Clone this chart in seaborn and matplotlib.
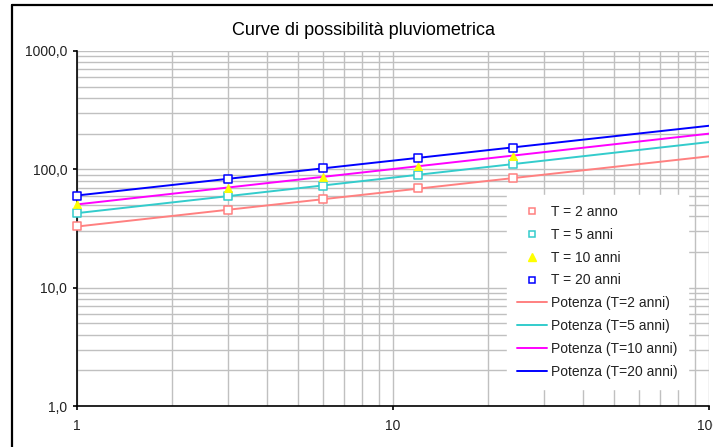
import numpy as np
import pandas as pd
import matplotlib
matplotlib.use('agg')
import matplotlib.pyplot as plt
from matplotlib.lines import Line2D
from matplotlib.ticker import FixedLocator, FixedFormatter, NullFormatter
import seaborn as sns

# durate (ore) e altezze di pioggia (mm)
durate = [1, 3, 6, 12, 24]
h_T2 = [33.0, 45.1, 55.9, 69.2, 84.1]
h_T5 = [42.6, 59.6, 72.8, 89.7, 111.0]
h_T10 = [50.7, 70.0, 85.7, 107.0, 130.6]
h_T20 = [59.9, 83.4, 102.0, 125.6, 152.5]

serie_punti = ['T = 2 anno', 'T = 5 anni', 'T = 10 anni', 'T = 20 anni']
serie_linee = ['Potenza (T=2 anni)', 'Potenza (T=5 anni)',
               'Potenza (T=10 anni)', 'Potenza (T=20 anni)']
colori_punti = ['#FF8080', '#33CCCC', '#FFFF00', '#0000FF']
colori_linee = ['#FF8080', '#33CCCC', '#FF00FF', '#0000FF']
marker_punti = ['s', 's', '^', 's']

y_ticks = [1, 10, 100, 1000]
y_labels = ['1,0', '10,0', '100,0', '1000,0']
x_ticks = [1, 10, 100]
x_labels = ['1', '10', '100']

if __name__ == '__main__':
    sns.set_style('white')
    plt.rcParams['font.family'] = ['Liberation Sans', 'DejaVu Sans']

    valori = [h_T2, h_T5, h_T10, h_T20]
    pts = pd.DataFrame({
        'durata': durate * 4,
        'h': sum(valori, []),
        'serie': [s for s in serie_punti for _ in durate],
    })

    # linee di tendenza (potenza) come in Excel
    x_fit = np.logspace(0, 2, 200)
    righe = []
    for nome, v in zip(serie_linee, valori):
        b, a = np.polyfit(np.log10(durate), np.log10(v), 1)
        righe.append(pd.DataFrame({'durata': x_fit, 'h': 10 ** a * x_fit ** b, 'serie': nome}))
    fit = pd.concat(righe, ignore_index=True)

    fig = plt.figure(figsize=(7.13, 4.47), dpi=100)
    ax = fig.add_axes([77 / 713, 41 / 447, 632 / 713, 355 / 447])

    sns.lineplot(data=fit, x='durata', y='h', hue='serie', palette=colori_linee,
                 linewidth=1.4, legend=False, ax=ax, zorder=3)

    for nome, col, mk in zip(serie_punti, colori_punti, marker_punti):
        sub = pts[pts['serie'] == nome]
        sns.scatterplot(data=sub, x='durata', y='h', marker=mk, s=28 if mk == 's' else 36,
                        ax=ax, legend=False, zorder=4, clip_on=False)
        coll = ax.collections[-1]
        if mk == 's':
            coll.set_facecolor('white')
            coll.set_edgecolor(col)
            coll.set_linewidth(1.1)
        else:
            coll.set_facecolor(col)
            coll.set_edgecolor(col)
            coll.set_linewidth(0.5)

    ax.set_xscale('log')
    ax.set_yscale('log')
    ax.set_xlim(1, 100)
    ax.set_ylim(1, 1000)
    ax.yaxis.set_major_locator(FixedLocator(y_ticks))
    ax.yaxis.set_major_formatter(FixedFormatter(y_labels))
    ax.xaxis.set_major_locator(FixedLocator(x_ticks))
    ax.xaxis.set_major_formatter(FixedFormatter(x_labels))
    ax.xaxis.set_minor_formatter(NullFormatter())
    ax.yaxis.set_minor_formatter(NullFormatter())
    ax.set_xlabel('')
    ax.set_ylabel('')

    ax.grid(True, which='both', color='#C0C0C0', linewidth=1.0)
    ax.set_axisbelow(True)
    for s in ['top', 'right']:
        ax.spines[s].set_visible(False)
    for s in ['left', 'bottom']:
        ax.spines[s].set_color('black')
        ax.spines[s].set_linewidth(1.2)
    ax.tick_params(which='major', direction='out', length=3, width=1.2, color='black',
                   labelsize=10, labelcolor='#222222', left=True, bottom=True)
    ax.tick_params(axis='y', pad=4)
    ax.tick_params(axis='x', pad=6)
    ax.tick_params(which='minor', length=0)

    handles = []
    for nome, col, mk in zip(serie_punti, colori_punti, marker_punti):
        if mk == 's':
            handles.append(Line2D([], [], linestyle='none', marker='s', markersize=5,
                                  markerfacecolor='white', markeredgecolor=col,
                                  markeredgewidth=1.1, label=nome))
        else:
            handles.append(Line2D([], [], linestyle='none', marker='^', markersize=6,
                                  markerfacecolor=col, markeredgecolor=col, label=nome))
    for nome, col in zip(serie_linee, colori_linee):
        handles.append(Line2D([], [], color=col, linewidth=1.4, label=nome))

    leg = ax.legend(handles=handles, loc='upper left',
                    bbox_to_anchor=(507 / 713, 1 - 195 / 447), bbox_transform=fig.transFigure,
                    fontsize=10, frameon=True, fancybox=False, framealpha=1,
                    borderpad=0.7, borderaxespad=0, handlelength=2.2, handletextpad=0.3,
                    labelspacing=0.64)
    leg.get_frame().set_facecolor('white')
    leg.get_frame().set_edgecolor('white')
    for t in leg.get_texts():
        t.set_color('#222222')

    fig.text(364 / 713, 1 - 35 / 447, 'Curve di possibilità pluviometrica',
             ha='center', va='baseline', fontsize=13, color='black')

    # bordo dell'area del grafico
    fig.add_artist(Line2D([12 / 713, 12 / 713], [-0.05, 1 - 5 / 447],
                          transform=fig.transFigure, color='black', linewidth=1.6))
    fig.add_artist(Line2D([12 / 713, 1.05], [1 - 5 / 447, 1 - 5 / 447],
                          transform=fig.transFigure, color='black', linewidth=1.6))

    fig.savefig('out.png', dpi=100)
